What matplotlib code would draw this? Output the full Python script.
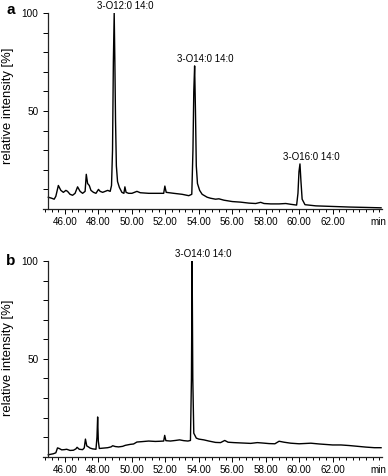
import matplotlib
matplotlib.use("Agg")
import matplotlib.pyplot as plt
from matplotlib.ticker import FixedLocator, MultipleLocator

plt.rcParams['font.family'] = ['Liberation Sans', 'DejaVu Sans']

# ---------------- data ----------------
time_a = [45.00, 45.20, 45.35, 45.45, 45.60, 45.75, 45.90, 46.05, 46.15, 46.30,
          46.45, 46.60, 46.75, 46.90, 47.05, 47.20, 47.27, 47.35, 47.45, 47.55,
          47.70, 47.85, 48.00, 48.10, 48.25, 48.40, 48.55, 48.70, 48.78, 48.84,
          48.89, 48.94, 48.98, 49.02, 49.07, 49.14, 49.25, 49.40, 49.52, 49.58,
          49.65, 49.80, 50.00, 50.30, 50.50, 51.00, 51.50, 51.90, 51.97, 52.05,
          52.50, 53.00, 53.40, 53.58, 53.65, 53.70, 53.75, 53.80, 53.85, 53.92,
          54.05, 54.20, 54.50, 54.70, 55.00, 55.20, 55.50, 56.00, 56.50, 57.00,
          57.40, 57.70, 57.90, 58.30, 58.80, 59.20, 59.50, 59.85, 59.93, 59.99,
          60.05, 60.11, 60.18, 60.35, 61.00, 62.00, 63.00, 64.00, 64.90]
intensity_a = [6.0, 5.5, 5.0, 6.5, 12.0, 9.5, 8.5, 9.5, 9.0, 7.5,
               7.0, 8.0, 11.3, 9.0, 8.0, 9.0, 17.7, 13.0, 12.0, 9.5,
               8.5, 8.0, 10.0, 9.0, 8.5, 9.0, 9.5, 9.0, 12.0, 30.0,
               75.0, 100.0, 75.0, 45.0, 22.0, 14.0, 11.0, 8.5, 8.0, 11.3,
               8.5, 8.0, 8.0, 9.0, 8.3, 8.0, 8.0, 8.0, 11.7, 8.5,
               8.0, 7.5, 6.8, 7.5, 30.0, 60.0, 73.0, 50.0, 22.0, 13.0,
               9.5, 7.5, 6.0, 5.5, 5.0, 5.2, 4.5, 3.8, 3.5, 3.0,
               2.8, 3.4, 2.8, 2.6, 2.6, 2.8, 2.4, 2.0, 8.0, 19.0,
               23.0, 14.0, 5.0, 2.2, 1.6, 1.3, 1.0, 0.8, 0.6]

time_b = [45.00, 45.30, 45.45, 45.55, 45.65, 45.80, 45.95, 46.10, 46.30, 46.50,
          46.65, 46.72, 46.85, 47.05, 47.15, 47.22, 47.30, 47.40, 47.50, 47.65,
          47.85, 47.91, 47.95, 47.99, 48.05, 48.30, 48.55, 48.75, 48.85, 49.00,
          49.20, 49.45, 49.60, 49.90, 50.10, 50.30, 50.60, 51.00, 51.40, 51.70,
          51.90, 51.96, 52.03, 52.30, 52.60, 52.85, 53.10, 53.35, 53.50, 53.56,
          53.60, 53.64, 53.70, 53.85, 54.00, 54.30, 54.60, 55.00, 55.30, 55.55,
          55.75, 56.10, 56.60, 57.10, 57.50, 57.80, 58.20, 58.55, 58.80, 59.10,
          59.50, 60.00, 60.70, 61.20, 62.00, 62.50, 63.00, 63.50, 64.00, 64.50,
          64.90]
intensity_b = [1.0, 1.5, 2.0, 4.5, 4.2, 3.5, 3.6, 3.8, 3.2, 3.3,
               4.0, 4.8, 3.8, 3.6, 4.5, 9.0, 5.5, 5.0, 4.4, 4.0,
               3.8, 10.0, 20.3, 8.0, 4.2, 4.4, 4.6, 5.0, 5.6, 5.2,
               5.0, 5.3, 5.8, 6.3, 6.5, 7.5, 7.7, 8.0, 7.8, 7.9,
               8.0, 10.9, 8.2, 8.0, 8.3, 8.6, 8.2, 8.0, 8.3, 40.0,
               100.0, 40.0, 12.0, 9.5, 9.0, 8.6, 8.0, 7.3, 7.2, 8.3,
               7.4, 7.2, 7.0, 6.8, 7.2, 7.0, 6.7, 6.6, 7.9, 7.4,
               6.9, 6.6, 6.9, 6.5, 6.0, 6.0, 5.7, 5.3, 4.9, 4.6,
               4.6]

peak_labels_a = ['3-O12:0 14:0', '3-O14:0 14:0', '3-O16:0 14:0']
peak_times_a = [48.94, 53.75, 60.05]
peak_heights_a = [100.0, 73.0, 23.0]

peak_labels_b = ['3-O14:0 14:0']
peak_times_b = [53.60]
peak_heights_b = [100.0]

xtick_values = [46, 48, 50, 52, 54, 56, 58, 60, 62]
xtick_labels = ['46.00', '48.00', '50.00', '52.00', '54.00', '56.00', '58.00', '60.00', '62.00']
ytick_values = [50, 100]
ytick_labels = ['50', '100']
panel_letters = ['a', 'b']
ylabel_text = 'relative intensity [%]'
unit_text = 'min'

# ---------------- figure ----------------
W, H = 388, 476
fig = plt.figure(figsize=(W / 100, H / 100), dpi=100)

def fx(px):
    return px / W

def fy(py):
    return 1 - py / H

left_px, right_px = 43.3, 381.9
ax_a = fig.add_axes([fx(left_px), fy(209), fx(right_px - left_px), (209 - 13) / H])
ax_b = fig.add_axes([fx(left_px), fy(456.7), fx(right_px - left_px), (456.7 - 261) / H])

panels = [
    (ax_a, time_a, intensity_a, peak_labels_a, peak_times_a, peak_heights_a),
    (ax_b, time_b, intensity_b, peak_labels_b, peak_times_b, peak_heights_b),
]

for ax, t, v, labs, pts, phs in panels:
    ax.plot(t, v, color='black', lw=1.0, solid_joinstyle='round')
    ax.set_xlim(44.7, 64.95)
    ax.set_ylim(0, 100)
    ax.spines['top'].set_visible(False)
    ax.spines['right'].set_visible(False)
    ax.spines['left'].set_position(('data', 45))
    ax.spines['left'].set_bounds(0, 100)
    for s in ('left', 'bottom'):
        ax.spines[s].set_linewidth(0.9)
        ax.spines[s].set_color('#222222')
    ax.xaxis.set_major_locator(FixedLocator(xtick_values))
    ax.set_xticklabels(xtick_labels)
    ax.xaxis.set_minor_locator(MultipleLocator(0.4))
    ax.yaxis.set_major_locator(FixedLocator(ytick_values))
    ax.set_yticklabels(ytick_labels)
    ax.yaxis.set_minor_locator(MultipleLocator(10))
    ax.tick_params(axis='x', which='major', length=3.5, width=0.7, pad=2.5, labelsize=7.1, direction='out')
    ax.tick_params(axis='x', which='minor', length=2.5, width=0.7, direction='out')
    ax.tick_params(axis='y', which='major', length=3.8, width=0.7, pad=3.3, labelsize=7.2, direction='out')
    ax.tick_params(axis='y', which='minor', length=3.8, width=0.7, direction='out')
    ax.patch.set_visible(False)
    ax.annotate(unit_text, xy=(64.75, 0), xycoords=('data', 'axes fraction'),
                xytext=(0, -6.0), textcoords='offset points',
                ha='center', va='top', fontsize=7.1)
    for lab, pt, ph in zip(labs, pts, phs):
        ax.annotate(lab, xy=(pt, ph), xytext=(8, 1.5), textcoords='offset points',
                    ha='center', va='bottom', fontsize=7.0, annotation_clip=False)

fig.text(fx(11), fy(10), panel_letters[0], fontsize=11, fontweight='bold', ha='center', va='center')
fig.text(fx(11), fy(261), panel_letters[1], fontsize=11, fontweight='bold', ha='center', va='center')
fig.text(fx(8), fy(106), ylabel_text, rotation=90, fontsize=9.4, ha='center', va='center')
fig.text(fx(8), fy(358), ylabel_text, rotation=90, fontsize=9.4, ha='center', va='center')

fig.savefig('out.png', dpi=100)
